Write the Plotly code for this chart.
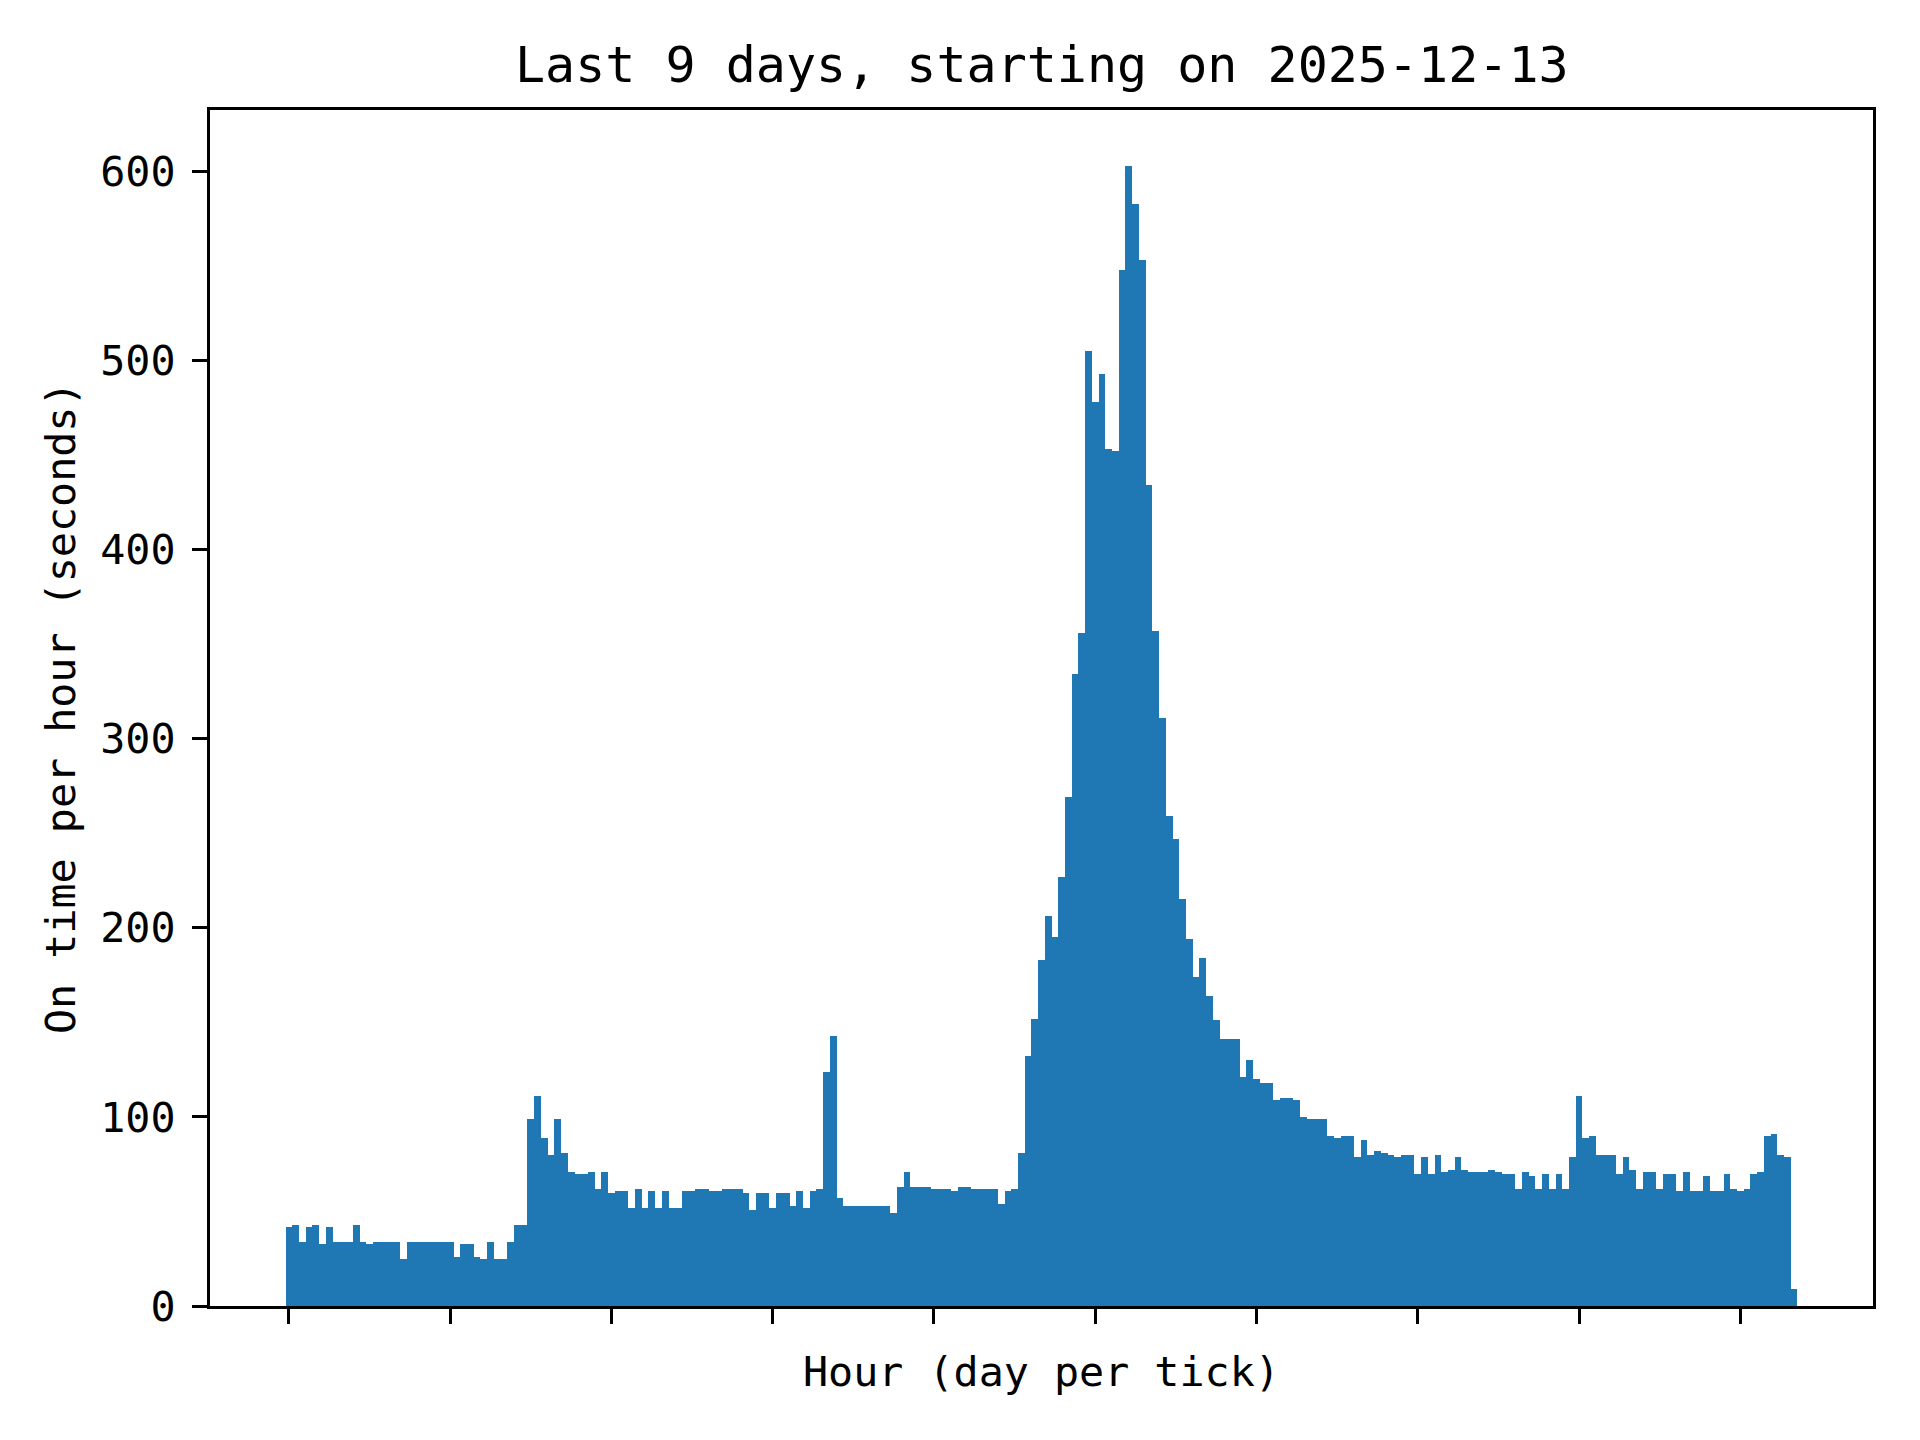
import plotly.graph_objects as go

# On-time per hour (seconds), hourly values
on_time_seconds = [
    42, 43, 34, 42, 43, 33, 42, 34, 34, 34, 43, 34, 33, 34, 34, 34, 34, 25, 34, 34,
    34, 34, 34, 34, 34, 26, 33, 33, 26, 25, 34, 25, 25, 34, 43, 43, 99, 111, 89, 80,
    99, 81, 71, 70, 70, 71, 62, 71, 60, 61, 61, 52, 62, 52, 61, 52, 61, 52, 52, 61,
    61, 62, 62, 61, 61, 62, 62, 62, 60, 51, 60, 60, 52, 60, 60, 53, 61, 52, 61, 62,
    124, 143, 57, 53, 53, 53, 53, 53, 53, 53, 49, 63, 71, 63, 63, 63, 62, 62, 62, 61,
    63, 63, 62, 62, 62, 62, 54, 61, 62, 81, 132, 152, 183, 206, 195, 227, 269, 334, 356, 505,
    478, 493, 453, 452, 548, 603, 583, 553, 434, 357, 311, 259, 247, 215, 194, 174, 184, 164, 151, 141,
    141, 141, 121, 130, 120, 118, 118, 109, 110, 110, 109, 100, 99, 99, 99, 90, 89, 90, 90, 79,
    88, 80, 82, 81, 80, 79, 80, 80, 70, 79, 70, 80, 71, 72, 79, 72, 71, 71, 71, 72,
    71, 70, 70, 62, 71, 69, 62, 70, 62, 70, 62, 79, 111, 89, 90, 80, 80, 80, 70, 79,
    72, 62, 71, 71, 62, 70, 70, 61, 71, 61, 61, 69, 61, 61, 70, 62, 61, 62, 70, 71,
    90, 91, 80, 79, 9,
]
hours = list(range(len(on_time_seconds)))
day_ticks = list(range(0, 217, 24))
y_ticks = [0, 100, 200, 300, 400, 500, 600]

title_text = "Last 9 days, starting on 2025-12-13"
x_label = "Hour (day per tick)"
y_label = "On time per hour (seconds)"

FONT = "DejaVu Sans Mono"
BAR_COLOR = "#1f77b4"

fig = go.Figure()
fig.add_trace(go.Bar(
    x=hours,
    y=on_time_seconds,
    width=1.0,
    marker=dict(color=BAR_COLOR, line=dict(width=0)),
    showlegend=False,
))

# The page body adds an 8px offset, so the figure is 8px smaller on each axis.
fig.update_layout(
    width=1912,
    height=1432,
    paper_bgcolor="white",
    plot_bgcolor="white",
    margin=dict(l=202, r=47, t=102, b=134, pad=0),
    bargap=0,
    font=dict(family=FONT, color="black", size=42),
)

fig.update_xaxes(
    range=[-11.75, 235.75],
    tickmode="array",
    tickvals=day_ticks,
    showticklabels=False,
    ticks="outside",
    ticklen=15,
    tickwidth=3.3,
    tickcolor="black",
    showline=True,
    linecolor="black",
    linewidth=3.3,
    mirror=True,
    showgrid=False,
    zeroline=False,
)
fig.update_yaxes(
    range=[0, 632.5],
    tickmode="array",
    tickvals=y_ticks,
    ticktext=[str(v) for v in y_ticks],
    ticks="outside",
    ticklen=15,
    tickwidth=3.3,
    tickcolor="black",
    tickfont=dict(family=FONT, size=41.7, color="black"),
    ticklabelstandoff=8,
    showline=True,
    linecolor="black",
    linewidth=3.3,
    mirror=True,
    showgrid=False,
    zeroline=False,
)

# Title
fig.add_annotation(
    text=title_text, xref="paper", yref="paper", x=0.5, y=1,
    xanchor="center", yanchor="bottom", yshift=14, showarrow=False,
    font=dict(family=FONT, size=50, color="black"),
)
# X axis label
fig.add_annotation(
    text=x_label, xref="paper", yref="paper", x=0.5, y=0,
    xanchor="center", yanchor="middle", yshift=-65, showarrow=False,
    font=dict(family=FONT, size=41.7, color="black"),
)
# Y axis label
fig.add_annotation(
    text=y_label, xref="paper", yref="paper", x=0, y=0.5,
    xanchor="center", yanchor="middle", xshift=-150, textangle=-90, showarrow=False,
    font=dict(family=FONT, size=41.7, color="black"),
)

fig.write_html("out.html")
